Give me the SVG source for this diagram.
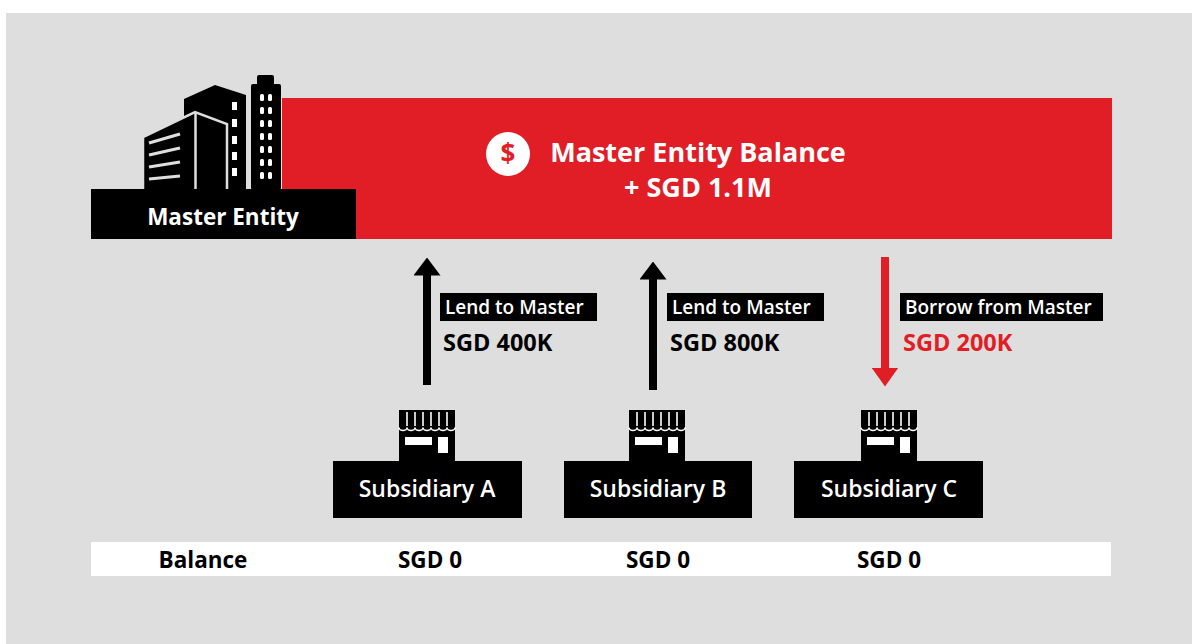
<svg xmlns="http://www.w3.org/2000/svg" xmlns:xlink="http://www.w3.org/1999/xlink" width="1192" height="644" viewBox="0 0 1192 644">
<style>
text{font-family:"Open Sans","Noto Sans","Liberation Sans",sans-serif;font-weight:700}
.wt{fill:#fff}
.bk{fill:#000}
.rd{fill:#e11d25}
.lbl{font-size:19px;font-weight:600}
.amt{font-size:23.5px}
.sub{font-size:23px;font-weight:600;text-anchor:middle}
.bal{font-size:22.5px;text-anchor:middle}
.ttl{font-size:27px;text-anchor:middle}
</style>
<defs>
<marker id="hk" markerUnits="userSpaceOnUse" markerWidth="18" markerHeight="27" viewBox="0 0 18 27" refX="0.5" refY="13.5" orient="auto">
<path d="M0,0 L18,13.5 L0,27 z" fill="#000"/>
</marker>
<marker id="hr" markerUnits="userSpaceOnUse" markerWidth="19" markerHeight="27" viewBox="0 0 19 27" refX="0.5" refY="13.5" orient="auto">
<path d="M0,0 L19,13.5 L0,27 z" fill="#e11d25"/>
</marker>
<g id="shop">
<rect x="-28" y="0" width="56" height="51" fill="#000"/>
<path d="M-20,2V16M-12,2V16M-4,2V16M4,2V16M12,2V16M20,2V16" stroke="#fff" stroke-width="1.6"/>
<path d="M28,17.5 a4,3 0 0 1 -8,0 a4,3 0 0 1 -8,0 a4,3 0 0 1 -8,0 a4,3 0 0 1 -8,0 a4,3 0 0 1 -8,0 a4,3 0 0 1 -8,0 a4,3 0 0 1 -8,0" fill="none" stroke="#fff" stroke-width="1.5"/>
<rect x="-22" y="27" width="27" height="8" fill="#fff"/>
<rect x="11" y="27" width="10" height="16" fill="#fff"/>
</g>
</defs>
<rect x="0" y="0" width="1192" height="644" fill="#fff"/>
<rect x="6" y="13" width="1186" height="631" fill="#dedede"/>

<g id="master-entity">
<rect x="282" y="98" width="830" height="141" fill="#e11d25"/>
<rect x="257" y="75" width="17" height="14" rx="2" fill="#000"/>
<rect x="251" y="84" width="30" height="106" rx="2" fill="#000"/>
<g fill="#fff">
<rect x="260" y="94" width="4" height="7" rx="1.5"/><rect x="268" y="94" width="4" height="7" rx="1.5"/>
<rect x="260" y="107" width="4" height="7" rx="1.5"/><rect x="268" y="107" width="4" height="7" rx="1.5"/>
<rect x="260" y="120" width="4" height="7" rx="1.5"/><rect x="268" y="120" width="4" height="7" rx="1.5"/>
<rect x="260" y="133" width="4" height="7" rx="1.5"/><rect x="268" y="133" width="4" height="7" rx="1.5"/>
<rect x="260" y="146" width="4" height="7" rx="1.5"/><rect x="268" y="146" width="4" height="7" rx="1.5"/>
<rect x="260" y="159" width="4" height="7" rx="1.5"/><rect x="268" y="159" width="4" height="7" rx="1.5"/>
<rect x="260" y="172" width="4" height="7" rx="1.5"/><rect x="268" y="172" width="4" height="7" rx="1.5"/>
</g>
<polygon points="184,99 215,85 246,95 246,190 184,190" fill="#000"/>
<g fill="#fff">
<rect x="232" y="102" width="5" height="8"/>
<rect x="232" y="119" width="5" height="8"/>
<rect x="232" y="136" width="5" height="8"/>
<rect x="232" y="152" width="5" height="8"/>
<rect x="232" y="168" width="5" height="8"/>
</g>
<polygon points="143,137 195,112 227,124 227,192 143,192" fill="#000" stroke="#dedede" stroke-width="2.5"/>
<line x1="195.5" y1="113" x2="195.5" y2="190" stroke="#dedede" stroke-width="2.5"/>
<g stroke="#dedede" stroke-width="3.2">
<line x1="149" y1="143" x2="180" y2="134"/>
<line x1="149" y1="155" x2="180" y2="148"/>
<line x1="149" y1="167" x2="180" y2="162"/>
<line x1="149" y1="179" x2="180" y2="176"/>
</g>
<rect x="91" y="189" width="265" height="50" fill="#000"/>
<text x="223" y="225" class="wt" font-size="22.5" text-anchor="middle">Master Entity</text>
<circle cx="508" cy="154" r="22" fill="#fff"/>
<text x="508" y="163" class="rd" font-size="26" text-anchor="middle">$</text>
<text x="698" y="162" class="wt ttl">Master Entity Balance</text>
<text x="698" y="197" class="wt ttl">+ SGD 1.1M</text>
</g>

<g id="connectors">
<line x1="427" y1="385" x2="427" y2="275" stroke="#000" stroke-width="8" marker-end="url(#hk)"/>
<line x1="653" y1="390" x2="653" y2="279" stroke="#000" stroke-width="8" marker-end="url(#hk)"/>
<line x1="885" y1="257" x2="885" y2="368" stroke="#e11d25" stroke-width="8" marker-end="url(#hr)"/>
<g id="label-a">
<rect x="440" y="293" width="157" height="28" fill="#000"/>
<text x="445" y="314" class="wt lbl">Lend to Master</text>
<text x="443" y="351" class="bk amt">SGD 400K</text>
</g>
<g id="label-b">
<rect x="667" y="293" width="157" height="28" fill="#000"/>
<text x="672" y="314" class="wt lbl">Lend to Master</text>
<text x="670" y="351" class="bk amt">SGD 800K</text>
</g>
<g id="label-c">
<rect x="900" y="293" width="203" height="28" fill="#000"/>
<text x="905" y="314" class="wt lbl">Borrow from Master</text>
<text x="903" y="351" class="rd amt">SGD 200K</text>
</g>
</g>

<g id="subsidiary-a">
<use xlink:href="#shop" x="427" y="410"/>
<rect x="333" y="461" width="189" height="57" fill="#000"/>
<text x="427" y="497" class="wt sub">Subsidiary A</text>
</g>
<g id="subsidiary-b">
<use xlink:href="#shop" x="657" y="410"/>
<rect x="564" y="461" width="188" height="57" fill="#000"/>
<text x="658" y="497" class="wt sub">Subsidiary B</text>
</g>
<g id="subsidiary-c">
<use xlink:href="#shop" x="889" y="410"/>
<rect x="794" y="461" width="189" height="57" fill="#000"/>
<text x="889" y="497" class="wt sub">Subsidiary C</text>
</g>

<g id="balance-row">
<rect x="91" y="542" width="1020" height="34" fill="#fff"/>
<text x="203" y="568" class="bk bal">Balance</text>
<text x="430" y="568" class="bk bal">SGD 0</text>
<text x="658" y="568" class="bk bal">SGD 0</text>
<text x="889" y="568" class="bk bal">SGD 0</text>
</g>
</svg>
